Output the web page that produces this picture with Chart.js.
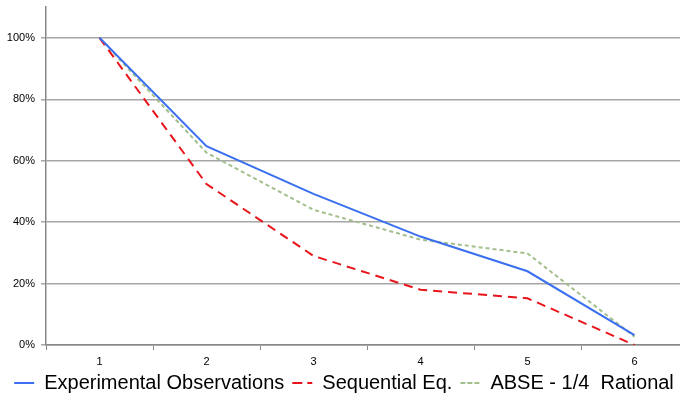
<!DOCTYPE html>
<html>
<head>
<meta charset="utf-8">
<script src="https://cdn.jsdelivr.net/npm/chart.js@4/dist/chart.umd.min.js"></script>
<style>
  html, body { margin: 0; padding: 0; background: #fff; overflow: hidden; }
  #wrap { width: 688px; height: 401px; }
</style>
</head>
<body>
<div id="wrap"><canvas id="myChart"></canvas></div>
<script>
// chart data
const categories = ['1', '2', '3', '4', '5', '6'];
const experimental = [1.00, 0.647, 0.492, 0.353, 0.240, 0.032];
const sequential = [1.00, 0.524, 0.290, 0.180, 0.152, 0.000];
const abse = [1.00, 0.626, 0.440, 0.343, 0.298, 0.027];
const yTicks = [0, 0.2, 0.4, 0.6, 0.8, 1.0];

const lbl = (v) => Math.round(v * 100) + '%';

// keep the legend box at a fixed height so the plot area lines up
const legendHeight = {
    id: 'legendHeight',
    beforeUpdate(chart) {
        const lg = chart.legend;
        if (lg && !lg._patched) {
            const fit = lg.fit;
            lg.fit = function() {
                fit.call(this);
                this.height = 36;
            };
            lg._patched = true;
        }
    }
};

let ctx = document.getElementById('myChart').getContext('2d');
new Chart(ctx, {
    type: 'line',
    data: {
        labels: categories,
        datasets: [{
            label: 'Experimental Observations',
            data: experimental,
            borderColor: '#3a6ff0',
            backgroundColor: 'rgba(0,0,0,0)',
            borderWidth: 2,
            pointRadius: 0,
            tension: 0
        }, {
            label: 'Sequential Eq.',
            data: sequential,
            borderColor: '#e8141b',
            backgroundColor: 'rgba(0,0,0,0)',
            borderWidth: 2,
            borderDash: [9, 6],
            pointRadius: 0,
            tension: 0
        }, {
            label: 'ABSE - 1/4  Rational',
            data: abse,
            borderColor: '#a3bf8c',
            backgroundColor: 'rgba(0,0,0,0)',
            borderWidth: 2,
            borderDash: [4, 3],
            pointRadius: 0,
            tension: 0
        }]
    },
    plugins: [legendHeight],
    options: {
        responsive: true,
        maintainAspectRatio: false,
        animation: false,
        layout: { padding: { top: 4, left: 0, right: 0, bottom: 0 } },
        plugins: {
            tooltip: { enabled: false },
            legend: {
                position: 'bottom',
                labels: {
                    boxWidth: 20,
                    boxHeight: 0,
                    padding: 8,
                    color: '#000',
                    font: { family: 'Liberation Sans', size: 20 }
                }
            }
        },
        scales: {
            x: {
                offset: true,
                grid: {
                    offset: true,
                    drawOnChartArea: false,
                    drawTicks: true,
                    tickLength: 5,
                    color: '#888'
                },
                border: { color: '#888', width: 1.5 },
                ticks: {
                    color: '#000',
                    padding: 5,
                    font: { family: 'Liberation Sans', size: 11 }
                },
                afterFit: function(axis) { axis.height = 20; }
            },
            y: {
                min: 0,
                max: 1.1,
                afterBuildTicks: function(axis) {
                    axis.ticks = yTicks.map(v => ({ value: v }));
                },
                grid: {
                    color: '#a6a6a6',
                    lineWidth: 1.5,
                    tickLength: 5
                },
                border: { color: '#888', width: 1.5 },
                ticks: {
                    color: '#000',
                    padding: 6,
                    font: { family: 'Liberation Sans', size: 11, lineHeight: 0.2 },
                    callback: function(v) { return lbl(v); }
                },
                afterFit: function(axis) { axis.width = 46; }
            }
        }
    }
});
</script>
</body>
</html>
